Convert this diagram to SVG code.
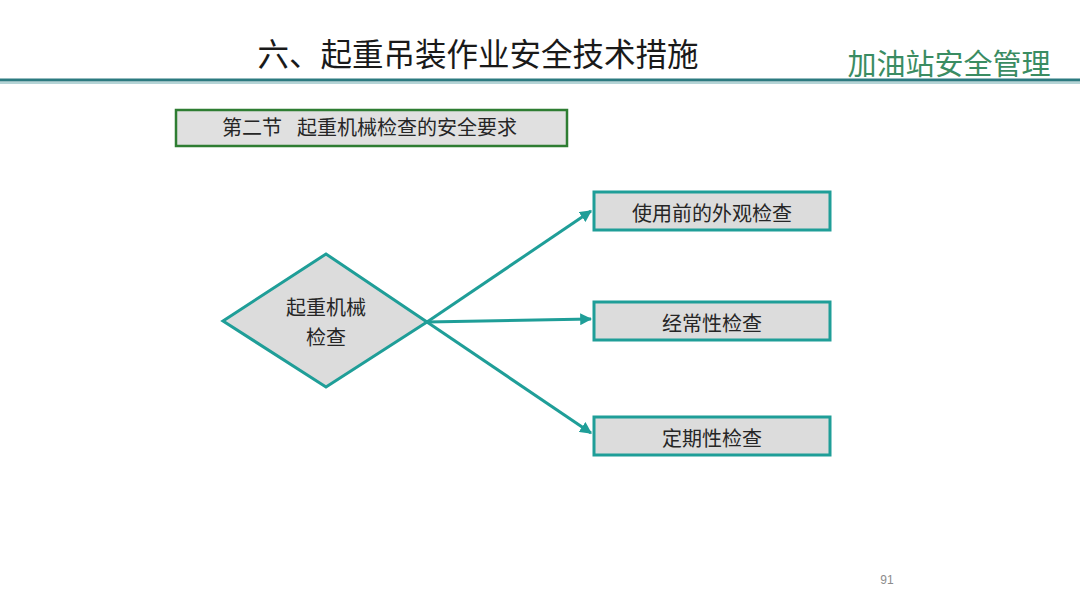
<svg xmlns="http://www.w3.org/2000/svg" width="1080" height="608" viewBox="0 0 1080 608">
<style>
.cjk{font-family:"Liberation Sans","Noto Sans CJK SC",sans-serif;}
.node{fill:#dcdcdc;stroke:#1f9e98;stroke-width:3;}
.lbl{font-size:20px;fill:#262626;text-anchor:middle;}
.conn{stroke:#1f9e98;stroke-width:3;fill:none;marker-end:url(#arr);}
</style>
<defs>
<marker id="arr" viewBox="0 0 10 10" refX="9" refY="5" markerWidth="4" markerHeight="4" orient="auto" markerUnits="strokeWidth">
<path d="M0,0 L10,5 L0,10 z" fill="#1f9e98"/>
</marker>
</defs>
<rect width="1080" height="608" fill="#ffffff"/>
<g id="header">
<text class="cjk" x="478" y="66" font-size="31.5" fill="#1a1a1a" text-anchor="middle">六、起重吊装作业安全技术措施</text>
<text class="cjk" x="949" y="75" font-size="29" fill="#3a8c62" text-anchor="middle">加油站安全管理</text>
<line x1="0" y1="80" x2="1080" y2="80" stroke="#2c7a80" stroke-width="3"/>
<line x1="0" y1="83" x2="1080" y2="83" stroke="#9cc6c8" stroke-width="1.5"/>
</g>
<g id="section">
<rect x="176" y="110" width="391" height="36" fill="#e0e0e0" stroke="#2e7d32" stroke-width="2.5"/>
<text class="cjk" x="222" y="135" font-size="20" fill="#262626">第二节</text>
<text class="cjk" x="297" y="135" font-size="20" fill="#262626">起重机械检查的安全要求</text>
</g>
<g id="connectors">
<line class="conn" x1="427" y1="322" x2="591" y2="211"/>
<line class="conn" x1="427" y1="322" x2="591" y2="319"/>
<line class="conn" x1="427" y1="322" x2="591" y2="433"/>
</g>
<g id="center">
<polygon class="node" points="223,321 326,254 427,322 326,387"/>
<text class="cjk lbl" x="326" y="315">起重机械</text>
<text class="cjk lbl" x="326" y="345">检查</text>
</g>
<g id="box1">
<rect class="node" x="594" y="192" width="236" height="38"/>
<text class="cjk lbl" x="712" y="221">使用前的外观检查</text>
</g>
<g id="box2">
<rect class="node" x="594" y="302" width="236" height="38"/>
<text class="cjk lbl" x="712" y="331">经常性检查</text>
</g>
<g id="box3">
<rect class="node" x="594" y="417" width="236" height="38"/>
<text class="cjk lbl" x="712" y="446">定期性检查</text>
</g>
<text class="cjk" x="887" y="584" font-size="12" fill="#8c8c8c" text-anchor="middle">91</text>
</svg>
